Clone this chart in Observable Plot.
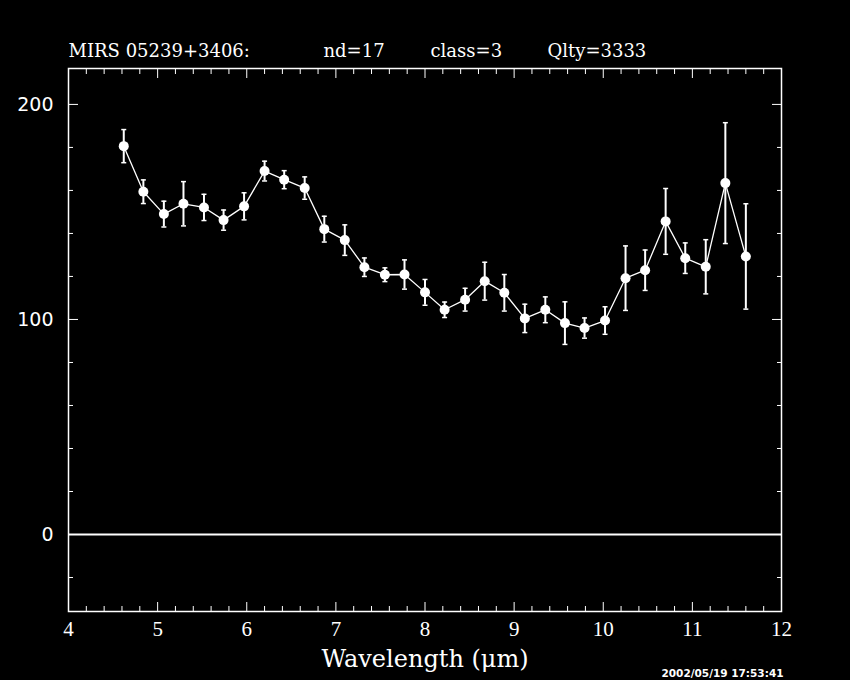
<!DOCTYPE html>
<html><head><meta charset="utf-8">
<script src="https://cdn.jsdelivr.net/npm/d3@7"></script>
<script src="https://cdn.jsdelivr.net/npm/@observablehq/plot@0.6"></script>
<style>
html,body{margin:0;padding:0;background:#000;overflow:hidden;}
#chart svg{display:block;}
</style>
</head><body><div id="chart"></div>
<script>
// ---- data ----
const wavelength = [4.62, 4.84, 5.07, 5.29, 5.52, 5.74, 5.97, 6.20, 6.42, 6.65, 6.87, 7.10, 7.32, 7.55, 7.77, 8.00,
                    8.22, 8.45, 8.67, 8.89, 9.12, 9.35, 9.57, 9.79, 10.02, 10.25, 10.47, 10.70, 10.92, 11.15, 11.37, 11.60];
const flux = [180.6, 159.4, 149.0, 153.8, 152.1, 146.2, 152.6, 169.0, 165.0, 161.1, 142.0, 136.9, 124.3, 120.8, 120.9, 112.6,
              104.5, 109.2, 117.8, 112.4, 100.5, 104.5, 98.3, 96.0, 99.5, 119.2, 122.9, 145.6, 128.5, 124.5, 163.4, 129.3];
const fluxErr = [7.7, 5.5, 6.0, 10.3, 6.1, 4.7, 6.3, 4.6, 4.2, 5.2, 6.0, 7.1, 4.3, 3.2, 6.8, 6.0,
                 3.6, 5.3, 8.8, 8.5, 6.6, 6.0, 9.9, 4.7, 6.4, 15.0, 9.4, 15.3, 7.1, 12.6, 28.1, 24.5];
const xMajorTicks = [4, 5, 6, 7, 8, 9, 10, 11, 12];
const yMajorTicks = [0, 100, 200];
const yMinorTicks = [-20, 20, 40, 60, 80, 120, 140, 160, 180];
const xMinorTicks = d3.range(4, 12.0001, 0.2).map(v => +v.toFixed(1)).filter(v => !Number.isInteger(v));
const titleParts = ["MIRS 05239+3406:", "nd=17", "class=3", "Qlty=3333"];
const xLabel = "Wavelength (μm)";
const timestamp = "2002/05/19 17:53:41";

const rows = wavelength.map((x, i) => ({x, y: flux[i], e: fluxErr[i]}));

const capSymbol = {
  draw(ctx, size) {
    const w = Math.sqrt(size / Math.PI);
    ctx.moveTo(-w, 0); ctx.lineTo(w, 0);
  }
};

const serif = "'DejaVu Serif', 'Liberation Serif', serif";
const titleOffsets = [0, 255, 362, 479];

const chart = Plot.plot({
  width: 850,
  height: 680,
  marginLeft: 68,
  marginRight: 69,
  marginTop: 68,
  marginBottom: 69,
  style: {background: "black", color: "white"},
  x: {domain: [4, 12]},
  y: {domain: [-35.8, 216.7]},
  marks: [
    Plot.frame({stroke: "white", strokeWidth: 1.5}),
    Plot.ruleY([0], {stroke: "white", strokeWidth: 2}),
    // ticks (inward) on all four sides
    Plot.axisX({anchor: "bottom", ticks: xMinorTicks, tickSize: -5, fill: "none", label: null}),
    Plot.axisX({anchor: "bottom", ticks: xMajorTicks, tickSize: -9, fill: "none", label: null}),
    Plot.axisX({anchor: "top", ticks: xMinorTicks, tickSize: -5, fill: "none", label: null}),
    Plot.axisX({anchor: "top", ticks: xMajorTicks, tickSize: -9, fill: "none", label: null}),
    Plot.axisY({anchor: "left", ticks: yMinorTicks, tickSize: -5, fill: "none", label: null}),
    Plot.axisY({anchor: "left", ticks: yMajorTicks, tickSize: -10, fill: "none", label: null}),
    Plot.axisY({anchor: "right", ticks: yMinorTicks, tickSize: -5, fill: "none", label: null}),
    Plot.axisY({anchor: "right", ticks: yMajorTicks, tickSize: -10, fill: "none", label: null}),
    // tick labels
    Plot.axisX({anchor: "bottom", ticks: xMajorTicks, tickSize: 0, tickPadding: 10, tickFormat: d => String(d),
                label: null, fontSize: 21, fontFamily: "'Liberation Serif', serif"}),
    Plot.axisY({anchor: "left", ticks: yMajorTicks, tickSize: 0, tickPadding: 15, tickFormat: d => String(d),
                label: null, fontSize: 19, fontFamily: "'DejaVu Sans', sans-serif"}),
    // error bars
    Plot.ruleX(rows, {x: "x", y1: d => d.y - d.e, y2: d => d.y + d.e, stroke: "white", strokeWidth: 2}),
    Plot.dot(rows, {x: "x", y: d => d.y + d.e, symbol: capSymbol, r: 2.5, fill: "none", stroke: "white", strokeWidth: 1.5}),
    Plot.dot(rows, {x: "x", y: d => d.y - d.e, symbol: capSymbol, r: 2.5, fill: "none", stroke: "white", strokeWidth: 1.5}),
    // spectrum
    Plot.line(rows, {x: "x", y: "y", stroke: "white", strokeWidth: 1.3}),
    Plot.dot(rows, {x: "x", y: "y", r: 5, fill: "white", stroke: "none"}),
    // title
    ...titleParts.map((t, i) => Plot.text([t], {frameAnchor: "top-left", textAnchor: "start", lineAnchor: "middle",
        dx: titleOffsets[i], dy: -17, fontSize: 18, fontFamily: serif, fill: "white", style: "letter-spacing:1.4px"})),
    // x axis label
    Plot.text([xLabel], {frameAnchor: "bottom", lineAnchor: "middle", dy: 48, fontSize: 24, fontFamily: serif,
        fill: "white", style: "letter-spacing:1.8px"}),
    // timestamp
    Plot.text([timestamp], {frameAnchor: "bottom-right", textAnchor: "end", lineAnchor: "middle", dx: 2, dy: 62,
        fontSize: 10.5, fontWeight: "bold", fontFamily: "'DejaVu Sans', sans-serif", fill: "white"})
  ]
});
document.getElementById("chart").appendChild(chart);
</script>
</body></html>
